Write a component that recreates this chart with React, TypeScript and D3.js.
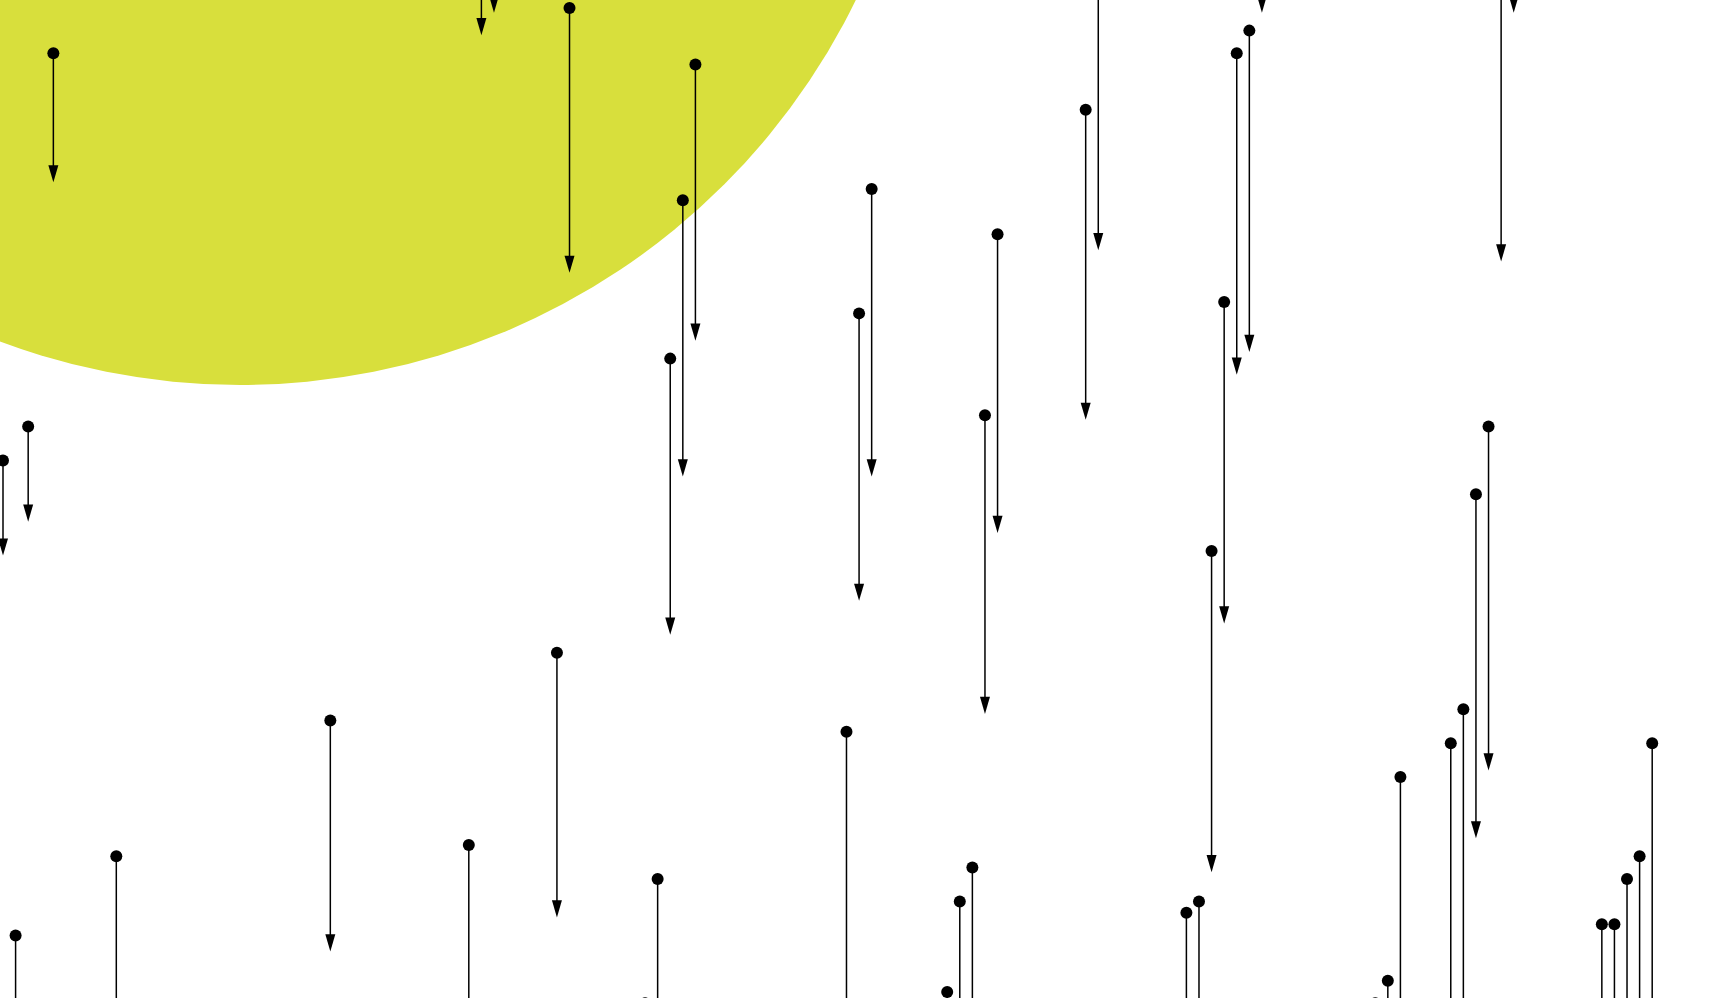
import * as d3 from "d3";
import { useEffect, useRef } from "react";

// category index of each arrow (x position)
const categories = [
  0, 1, 2, 4, 9, 26, 37, 38, 39, 44, 45, 51, 52, 53, 54, 55, 67, 68, 69, 75,
  76, 77, 78, 79, 86, 87, 94, 95, 96, 97, 98, 99, 100, 109, 110, 111, 115, 116,
  117, 118, 119, 120, 127, 128, 129, 130, 131,
];

// start value (dot) of each arrow
const startValues = [
  40, 82, 37, 4, 75, 63, 74, -21, -22, 57, 0, 88, 77, 31, 17, 5, 64, 27, 16, 87,
  79, 76, 36, 20, 9, -6, 80, 79, 48, 26, 4, 2, -28, 88, 86, 68, 65, 62, 43, 37,
  -8, -30, 81, 81, 77, 75, 65,
];

// end value (arrow head) of each arrow
const endValues = [
  48, 90, 45, 15, 89, 83, 97, 2, 0, 80, 23, 112, 101, 55, 41, 29, 89, 52, 41,
  113, 105, 102, 62, 46, 36, 21, 108, 107, 76, 54, 32, 30, 0, 117, 115, 97, 95,
  92, 73, 67, 22, 0, 111, 111, 107, 105, 95,
];

const WIDTH = 1720;
const HEIGHT = 998;

const ArrowChart = () => {
  const svgRef = useRef<SVGSVGElement | null>(null);

  useEffect(() => {
    const svg = d3.select(svgRef.current);
    svg.selectAll("*").remove();

    const data = categories.map((c, i) => ({
      cat: c,
      start: startValues[i],
      end: endValues[i],
    }));

    const x = d3.scaleLinear().domain([0, 131]).range([3, 1652.2]);
    const y = d3.scaleLinear().domain([0, 87]).range([8, 992]);

    svg
      .append("defs")
      .append("marker")
      .attr("id", "arrowhead")
      .attr("markerUnits", "userSpaceOnUse")
      .attr("viewBox", "-14 -6 20 12")
      .attr("markerWidth", 20)
      .attr("markerHeight", 12)
      .attr("refX", 0)
      .attr("refY", 0)
      .attr("orient", "auto")
      .append("path")
      .attr("d", "M-12.5,-5L4.7,0L-12.5,5Z")
      .attr("fill", "#000");

    // big background blob
    svg
      .append("circle")
      .attr("cx", 240)
      .attr("cy", -300)
      .attr("r", 685)
      .attr("fill", "#d8df3c");

    svg
      .append("g")
      .selectAll("line")
      .data(data)
      .join("line")
      .attr("x1", (d) => x(d.cat))
      .attr("x2", (d) => x(d.cat))
      .attr("y1", (d) => y(d.start))
      .attr("y2", (d) => y(d.end))
      .attr("stroke", "#000")
      .attr("stroke-width", 1.5)
      .attr("marker-end", "url(#arrowhead)");

    svg
      .append("g")
      .selectAll("circle")
      .data(data)
      .join("circle")
      .attr("cx", (d) => x(d.cat))
      .attr("cy", (d) => y(d.start))
      .attr("r", 6)
      .attr("fill", "#000");
  }, []);

  return (
    <svg
      ref={svgRef}
      width={WIDTH}
      height={HEIGHT}
      style={{ position: "fixed", left: 0, top: 0, background: "#fff" }}
    />
  );
};

export default function App() {
  return <ArrowChart />;
}
